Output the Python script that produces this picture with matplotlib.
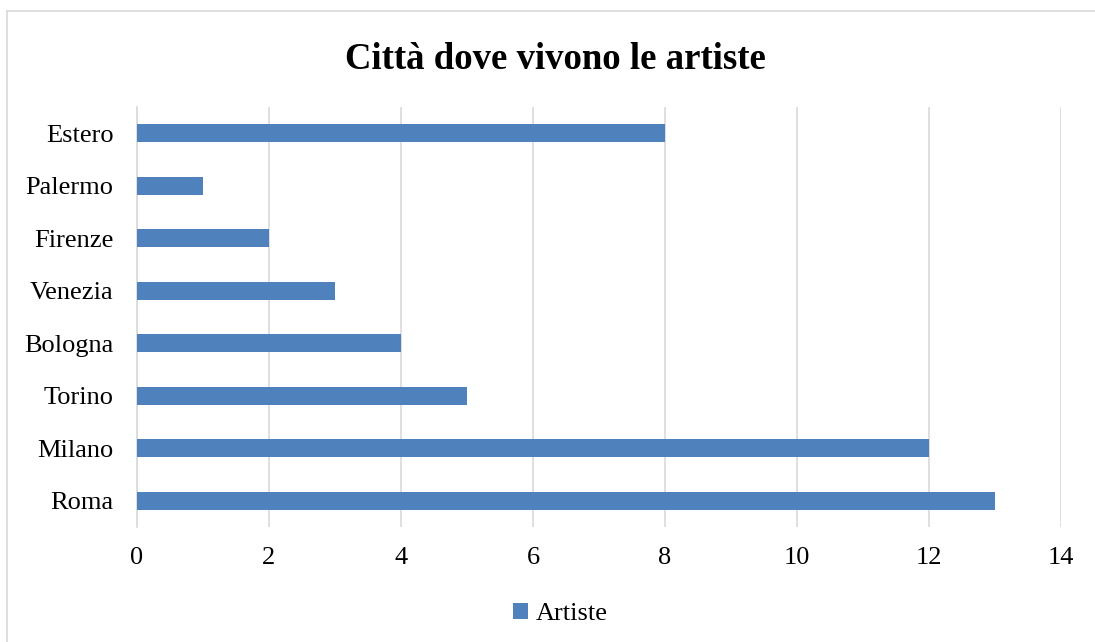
import matplotlib.pyplot as plt
from matplotlib.lines import Line2D

# data
cities = ['Roma', 'Milano', 'Torino', 'Bologna', 'Venezia', 'Firenze', 'Palermo', 'Estero']
artiste = [13, 12, 5, 4, 3, 2, 1, 8]
xticks = [0, 2, 4, 6, 8, 10, 12, 14]

plt.rcParams['font.family'] = ['Liberation Serif', 'DejaVu Serif']

fig = plt.figure(figsize=(10.95, 6.42), dpi=100)
ax = fig.add_axes([0.1251, 0.179, 0.8438, 0.6544])

ax.barh(range(len(cities)), artiste, height=0.35, color='#4F81BD', label='Artiste', zorder=3)

ax.set_xlim(0, 14)
ax.set_ylim(-0.5, len(cities) - 0.5)
ax.set_xticks(xticks)
ax.set_yticks(range(len(cities)))
ax.set_yticklabels(cities)
ax.tick_params(axis='both', length=0, labelsize=19, colors='black')
ax.tick_params(axis='x', pad=14)
ax.tick_params(axis='y', pad=17)
ax.grid(axis='x', color='#D9D9D9', linewidth=1.2, zorder=0)
for side in ['top', 'right', 'bottom']:
    ax.spines[side].set_visible(False)
ax.spines['left'].set_color('#D9D9D9')
ax.spines['left'].set_linewidth(1.2)

fig.text(0.507, 0.908, 'Città dove vivono le artiste', ha='center', va='center',
         fontsize=26.5, fontweight='bold')

fig.legend(loc='center', bbox_to_anchor=(0.512, 0.044), frameon=False, fontsize=19,
           handlelength=0.55, handleheight=0.55, handletextpad=0.3)

# outer chart border (left and top edges visible)
fig.add_artist(Line2D([6.5 / 1095, 6.5 / 1095], [0, 1 - 11 / 642], color='#D9D9D9', lw=1.2))
fig.add_artist(Line2D([6.5 / 1095, 1], [1 - 11 / 642, 1 - 11 / 642], color='#D9D9D9', lw=1.2))

fig.savefig('out.png', dpi=100)
